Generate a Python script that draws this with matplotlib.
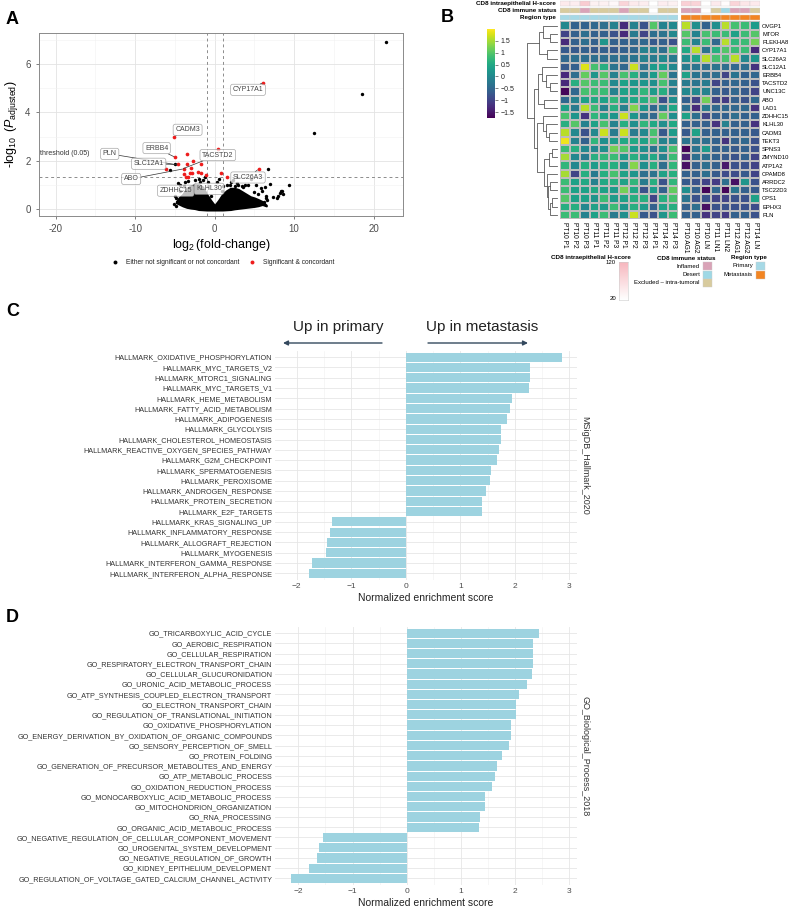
import numpy as np
import matplotlib
matplotlib.use('Agg')
import matplotlib.pyplot as plt
from matplotlib.colors import LinearSegmentedColormap
from matplotlib.patches import Rectangle
from matplotlib.ticker import MultipleLocator

plt.rcParams['font.family'] = ['Liberation Sans', 'DejaVu Sans']
plt.rcParams['mathtext.fontset'] = 'custom'
plt.rcParams['mathtext.rm'] = 'Liberation Sans'
plt.rcParams['mathtext.it'] = 'Liberation Sans:italic'

W, H = 789, 914

# ---------------- Panel A data (volcano) ----------------
sig_x = [6.1, -5.06, 0.42, -3.46, -4.98, -2.7, -4.56, -3.5, -1.69, -6.1, -3.88, -2.95,
         -2.07, -1.69, -1.14, -3.84, -3.59, -3.33, -3.16, -2.83, 0.84, 1.52, 5.53]
sig_y = [5.24, 3.0, 2.48, 2.28, 2.14, 1.98, 1.84, 1.84, 1.84, 1.66, 1.66, 1.69,
         1.54, 1.48, 1.42, 1.45, 1.34, 1.34, 1.48, 1.48, 1.47, 1.33, 1.65]

ns_x = [21.5, 18.6, 12.5, 6.75, -5.6, -4.98, -4.6, -4.4, -3.9, -1.2, -1.5, -0.8, 0.5, 0.3,
        2.3, 2.8, 3.0, 3.4, 3.8, 4.2, 4.6, 5.2, 5.8, 6.0, 6.3, 7.0, 6.5, 6.6, 6.2, 7.3,
        8.0, 8.2, 8.4, 8.6, 8.5, 9.3, 7.9, -4.8, -4.7, -5.0, -4.4, 1.5, 1.0, 2.0, -2.5,
        -2.0, -3.3, -3.7, -5.1, -4.9, 5.5, 6.4, 4.9, 3.6, -0.4, 0.9, -1.8, 1.9, 2.6]
ns_y = [6.93, 4.76, 3.15, 1.66, 1.6, 1.84, 1.05, 1.0, 0.95, 1.3, 1.2, 1.1, 1.25, 1.1,
        1.2, 1.05, 1.0, 0.95, 1.0, 1.0, 1.25, 1.0, 0.85, 0.75, 0.9, 1.02, 0.45, 0.35, 0.3, 0.5,
        0.55, 0.65, 0.75, 0.6, 0.75, 1.0, 0.45, 0.45, 0.3, 0.55, 0.75, 1.0, 0.95, 1.1, 1.2,
        1.25, 1.15, 1.1, 0.2, 0.1, 0.6, 0.55, 0.7, 0.9, 0.55, 0.75, 1.1, 1.0, 0.95]

cloud_x = [-4.8, -4.5, -4, -3.5, -3, -2.5, -2, -1.5, -1, -0.5, -0.15, 0, 0.15, 0.5, 1,
           1.5, 2, 2.5, 3, 3.5, 4, 4.5, 5, 5.5, 6, 6.5]
cloud_top = [0.3, 0.45, 0.6, 0.85, 0.95, 1.0, 1.0, 0.9, 0.6, 0.35, 0.2, 0.12, 0.2, 0.35, 0.6,
             0.75, 0.85, 0.85, 0.8, 0.7, 0.6, 0.5, 0.45, 0.38, 0.3, 0.15]
cloud_bottom = [0.25, 0.2, 0.12, 0.06, 0.03, 0.01, -0.03, -0.04, -0.05, -0.05, -0.05, -0.05,
                -0.05, -0.05, -0.05, -0.04, -0.03, 0.0, 0.02, 0.04, 0.06, 0.08, 0.1, 0.13, 0.18, 0.12]

gene_labels = ['CYP17A1', 'CADM3', 'ERBB4', 'PLN', 'SLC12A1', 'ABO', 'TACSTD2',
               'ZDHHC15', 'KLHL30', 'SLC26A3']
label_pt_x = [6.1, -5.06, -4.98, -4.98, -4.56, -3.88, -4.1, -4.5, -1.1, 5.53]
label_pt_y = [5.24, 3.0, 2.14, 1.84, 1.84, 1.66, 1.65, 1.05, 1.0, 1.65]
label_tx_x = [4.2, -3.4, -7.3, -13.2, -8.3, -10.5, 0.4, -4.9, -0.7, 4.2]
label_tx_y = [4.94, 3.28, 2.52, 2.28, 1.87, 1.24, 2.23, 0.75, 0.83, 1.3]

# ---------------- Panel B data (heatmap) ----------------
genes = ['OVGP1', 'MTOR', 'PLEKHA8', 'CYP17A1', 'SLC26A3', 'SLC12A1', 'ERBB4', 'TACSTD2',
         'UNC13C', 'ABO', 'LAD1', 'ZDHHC15', 'KLHL30', 'CADM3', 'TEKT3', 'SPNS3', 'ZMYND10',
         'ATP1A2', 'CPAMD8', 'ARRDC2', 'TSC22D3', 'CPS1', 'EPHX3', 'PLN']
samples_primary = ['PT10 P1', 'PT10 P2', 'PT10 P3', 'PT11 P1', 'PT11 P2', 'PT11 P3',
                   'PT12 P1', 'PT12 P2', 'PT12 P3', 'PT14 P1', 'PT14 P2', 'PT14 P3']
samples_met = ['PT10 AG1', 'PT10 AG2', 'PT10 LN', 'PT11 LN1', 'PT11 LN2', 'PT12 AG1',
               'PT12 AG2', 'PT14 LN']

expr_primary = np.array([
    [0.0, -0.6, -0.6, -0.5, -0.4, -0.1, -1.3, -0.1, -0.8, 1.0, -0.1, 0.0],
    [-1.0, -0.6, -0.4, -0.6, -0.6, -0.8, -1.3, -0.2, -1.0, -0.4, -0.3, 0.0],
    [-1.3, -0.6, -0.4, -0.6, 0.2, -0.6, -0.6, -0.5, -0.5, -0.7, -0.6, -0.8],
    [-0.7, -0.7, -0.6, -0.7, -0.6, -0.7, -0.6, -0.5, -0.1, -0.1, -0.4, 0.9],
    [-0.5, -0.4, -0.4, -0.4, -0.4, -0.4, -0.4, -0.3, -0.1, -0.2, 0.0, -0.2],
    [-0.7, -0.6, 1.8, 0.9, 0.6, -0.3, -0.5, 1.7, -0.3, 0.3, 0.4, 0.0],
    [-1.3, -0.4, 1.1, 0.2, 1.0, -0.1, 0.9, 0.6, -0.2, 0.3, 1.1, -0.3],
    [-1.3, 0.6, 1.0, 0.8, 0.8, 0.0, 0.4, 0.2, 0.2, 0.1, 0.9, -0.1],
    [-1.7, -0.5, 0.9, 0.8, 0.8, -0.1, 0.4, 0.4, 0.7, 0.3, 0.6, -0.2],
    [-0.5, -0.1, 0.4, 0.5, 0.4, 0.7, 0.3, 0.5, 0.6, 1.0, -0.8, 0.1],
    [0.4, -0.2, 1.6, 0.8, -0.1, 0.6, -0.1, 1.3, 0.2, -0.5, -0.1, 0.5],
    [0.9, 0.2, -1.2, 0.7, 0.4, 0.2, 1.7, 0.2, -0.3, -0.5, 1.1, 0.1],
    [0.6, 1.0, -0.1, 0.4, 0.9, -0.1, 0.6, 0.1, 0.7, 0.5, 0.1, 0.5],
    [1.6, 0.0, -0.8, 0.0, 1.7, -0.2, 1.7, -0.2, 0.0, 0.9, -0.7, 0.3],
    [1.9, -0.1, -0.6, 0.7, 0.1, 0.3, 0.5, 0.5, 0.4, 0.9, -0.1, 0.0],
    [0.8, 0.6, 0.0, 0.0, 0.1, 1.2, 1.0, 0.3, 0.1, -0.3, 0.1, 0.9],
    [1.5, 0.0, -0.2, 0.6, 0.7, 0.8, 0.3, 0.6, 0.2, 0.5, -0.1, 0.8],
    [0.7, 0.0, 0.6, 0.3, 0.6, 0.6, 0.1, 1.3, 0.1, 0.6, -0.4, 0.7],
    [1.5, -1.0, 0.6, -0.2, 0.6, 0.9, 0.4, 0.2, -0.4, -0.3, 0.4, 0.6],
    [0.8, 0.4, 0.5, -0.1, 0.5, 0.6, 0.4, 0.7, -0.2, 0.6, -0.8, 0.7],
    [0.8, 0.4, 0.4, 0.5, 0.4, 0.3, 1.2, 0.5, -0.8, 0.3, -0.6, 1.1],
    [1.0, 0.4, 0.4, 0.2, 0.8, 0.3, 0.4, 0.6, 0.6, -1.0, 0.6, 0.9],
    [0.6, 0.6, 0.0, 0.4, 0.3, 0.8, 0.2, 0.6, 0.3, -0.6, 0.4, 0.6],
    [0.8, 0.8, -0.1, 0.4, 0.8, -0.2, 0.1, 1.7, -0.7, -0.8, 0.2, 0.8],
])
expr_met = np.array([
    [1.6, 0.1, -0.6, 0.1, 1.6, 0.9, 0.8, 0.3],
    [1.0, -0.1, 0.9, 0.8, 0.8, 0.4, 0.8, 1.0],
    [0.8, -0.1, 0.8, -0.5, 1.6, 0.7, 0.8, 1.2],
    [0.5, 1.6, -0.3, 0.6, 1.0, 0.8, 0.8, -1.3],
    [0.1, 0.4, 1.6, 0.9, 0.9, 1.6, 0.0, 0.2],
    [-0.2, -0.3, -0.4, -0.3, -0.4, -0.5, -0.4, -1.2],
    [0.4, -0.3, -0.4, -0.4, -1.0, -0.3, -0.6, -0.5],
    [-0.2, -0.3, -0.2, -1.0, -0.6, -0.5, -0.6, -0.8],
    [0.0, 0.0, -0.1, -0.6, -0.7, -0.5, -0.7, -1.0],
    [-0.6, -1.0, 1.2, -1.0, -1.1, -0.6, -0.8, -0.5],
    [-0.4, -1.3, -0.2, -0.5, -0.5, -0.5, -0.5, -1.2],
    [0.4, -0.4, -1.0, -0.6, -0.6, -0.4, -0.6, -0.6],
    [-0.6, -0.6, -0.6, -1.2, -0.1, -0.6, -0.6, -1.2],
    [-0.7, 0.4, -0.6, -0.6, -0.6, -0.6, -0.6, -0.7],
    [-0.3, -0.3, -0.4, -0.6, -1.2, -0.6, -0.5, -0.8],
    [-1.7, -0.3, 0.3, -0.6, -0.6, -0.7, -0.6, -0.8],
    [-1.4, -0.4, -0.4, -0.6, -0.7, -0.8, -0.6, -1.0],
    [-1.6, -0.6, -0.4, -0.6, -1.5, -0.8, -0.8, -1.0],
    [-0.6, -0.6, -0.4, -0.7, -0.9, -0.9, -0.7, -1.0],
    [-0.7, -0.8, -1.0, -1.1, -0.4, -1.6, 0.2, -0.8],
    [0.1, -0.6, -1.7, -0.5, -1.7, -0.3, -0.6, -0.7],
    [-0.3, -0.8, -0.8, -1.0, -1.0, -0.8, -0.8, 0.4],
    [-0.6, -0.4, -1.6, -0.8, -0.8, -0.8, -0.8, -0.9],
    [-0.6, -0.6, -1.2, -1.0, -1.1, -0.6, -0.6, -0.8],
])

hscore_primary = [50, 45, 90, 40, 40, 30, 80, 50, 45, 20, 45, 40]
hscore_met = [85, 80, 20, 50, 25, 80, 55, 50]
immune_primary = ['Excluded', 'Excluded', 'Inflamed', 'Excluded', 'Excluded', 'Excluded',
                  'Inflamed', 'Excluded', 'Excluded', 'NA', 'Excluded', 'Excluded']
immune_met = ['Inflamed', 'Inflamed', 'NA', 'Excluded', 'Desert', 'Inflamed', 'Inflamed', 'Excluded']

# dendrogram: (left, right, height)
top_cluster = (('OVGP1', ('MTOR', 'PLEKHA8', 2.2), 4.6), ('CYP17A1', 'SLC26A3', 3.2), 5.9)
b1 = (('SLC12A1', ('ERBB4', ('TACSTD2', 'UNC13C', 2.5), 3.8), 5.0), ('ABO', 'LAD1', 4.2), 6.2)
b3 = ((('SPNS3', 'ZMYND10', 1.8), 'ATP1A2', 2.6),
      ('CPAMD8', (('ARRDC2', 'TSC22D3', 2.2), (('CPS1', 'EPHX3', 1.6), 'PLN', 2.4), 3.0), 3.5), 4.3)
b2 = (('ZDHHC15', ('KLHL30', ('CADM3', 'TEKT3', 2.8), 3.6), 4.6), b3, 6.8)
tree = (top_cluster, (b1, b2, 7.8), 10.0)

# ---------------- Panel C / D data ----------------
hallmark_terms = ['HALLMARK_OXIDATIVE_PHOSPHORYLATION', 'HALLMARK_MYC_TARGETS_V2',
                  'HALLMARK_MTORC1_SIGNALING', 'HALLMARK_MYC_TARGETS_V1',
                  'HALLMARK_HEME_METABOLISM', 'HALLMARK_FATTY_ACID_METABOLISM',
                  'HALLMARK_ADIPOGENESIS', 'HALLMARK_GLYCOLYSIS',
                  'HALLMARK_CHOLESTEROL_HOMEOSTASIS', 'HALLMARK_REACTIVE_OXYGEN_SPECIES_PATHWAY',
                  'HALLMARK_G2M_CHECKPOINT', 'HALLMARK_SPERMATOGENESIS', 'HALLMARK_PEROXISOME',
                  'HALLMARK_ANDROGEN_RESPONSE', 'HALLMARK_PROTEIN_SECRETION',
                  'HALLMARK_E2F_TARGETS', 'HALLMARK_KRAS_SIGNALING_UP',
                  'HALLMARK_INFLAMMATORY_RESPONSE', 'HALLMARK_ALLOGRAFT_REJECTION',
                  'HALLMARK_MYOGENESIS', 'HALLMARK_INTERFERON_GAMMA_RESPONSE',
                  'HALLMARK_INTERFERON_ALPHA_RESPONSE']
hallmark_nes = [2.87, 2.28, 2.28, 2.26, 1.94, 1.91, 1.86, 1.74, 1.74, 1.70, 1.68, 1.56, 1.54,
                1.47, 1.39, 1.39, -1.35, -1.40, -1.44, -1.47, -1.72, -1.77]

go_terms = ['GO_TRICARBOXYLIC_ACID_CYCLE', 'GO_AEROBIC_RESPIRATION', 'GO_CELLULAR_RESPIRATION',
            'GO_RESPIRATORY_ELECTRON_TRANSPORT_CHAIN', 'GO_CELLULAR_GLUCURONIDATION',
            'GO_URONIC_ACID_METABOLIC_PROCESS', 'GO_ATP_SYNTHESIS_COUPLED_ELECTRON_TRANSPORT',
            'GO_ELECTRON_TRANSPORT_CHAIN', 'GO_REGULATION_OF_TRANSLATIONAL_INITIATION',
            'GO_OXIDATIVE_PHOSPHORYLATION', 'GO_ENERGY_DERIVATION_BY_OXIDATION_OF_ORGANIC_COMPOUNDS',
            'GO_SENSORY_PERCEPTION_OF_SMELL', 'GO_PROTEIN_FOLDING',
            'GO_GENERATION_OF_PRECURSOR_METABOLITES_AND_ENERGY', 'GO_ATP_METABOLIC_PROCESS',
            'GO_OXIDATION_REDUCTION_PROCESS', 'GO_MONOCARBOXYLIC_ACID_METABOLIC_PROCESS',
            'GO_MITOCHONDRION_ORGANIZATION', 'GO_RNA_PROCESSING', 'GO_ORGANIC_ACID_METABOLIC_PROCESS',
            'GO_NEGATIVE_REGULATION_OF_CELLULAR_COMPONENT_MOVEMENT',
            'GO_UROGENITAL_SYSTEM_DEVELOPMENT', 'GO_NEGATIVE_REGULATION_OF_GROWTH',
            'GO_KIDNEY_EPITHELIUM_DEVELOPMENT', 'GO_REGULATION_OF_VOLTAGE_GATED_CALCIUM_CHANNEL_ACTIVITY']
go_nes = [2.44, 2.32, 2.32, 2.32, 2.31, 2.21, 2.07, 2.01, 2.01, 1.92, 1.92, 1.88, 1.76, 1.67,
          1.62, 1.57, 1.45, 1.44, 1.36, 1.33, -1.55, -1.61, -1.65, -1.81, -2.14]

# ---------------- helpers ----------------
def box(x0, y0, x1, y1):
    return [x0 / W, 1 - y1 / H, (x1 - x0) / W, (y1 - y0) / H]

fig = plt.figure(figsize=(W / 100, H / 100), dpi=100)

# ================= Panel A =================
ax = fig.add_axes(box(39, 33, 403, 216))
ax.set_xlim(-22.1, 23.7)
ax.set_ylim(-0.3, 7.3)
ax.set_xticks([-20, -10, 0, 10, 20])
ax.set_xticklabels(['-20', '-10', '0', '10', '20'])
ax.set_yticks([0, 2, 4, 6])
ax.set_yticklabels(['0', '2', '4', '6'])
ax.xaxis.set_minor_locator(MultipleLocator(5))
ax.yaxis.set_minor_locator(MultipleLocator(1))
ax.grid(which='major', color='#E3E3E3', lw=0.6)
ax.grid(which='minor', color='#F1F1F1', lw=0.4)
ax.set_axisbelow(True)
for s in ax.spines.values():
    s.set_color('#8A8A8A')
    s.set_linewidth(0.7)
ax.tick_params(which='major', labelsize=7, colors='#4D4D4D', length=2.5, width=0.5)
ax.tick_params(which='minor', length=0)

ax.fill_between(cloud_x, cloud_bottom, cloud_top, color='black', lw=1.5, edgecolor='black', zorder=2)
ax.scatter(ns_x, ns_y, s=6, color='black', lw=0, zorder=3)
ax.scatter(sig_x, sig_y, s=7, color='#EE1C1C', lw=0, zorder=4)

dash = (0, (3, 3))
ax.axhline(1.3, color='#8C8C8C', lw=0.7, ls=dash, zorder=1)
ax.axvline(-1, color='#8C8C8C', lw=0.7, ls=dash, zorder=1)
ax.axvline(1, color='#8C8C8C', lw=0.7, ls=dash, zorder=1)
ax.text(-22.0, 2.28, 'threshold (0.05)', fontsize=5, ha='left', va='center', color='#333333')

for g, px_, py_, tx, ty in zip(gene_labels, label_pt_x, label_pt_y, label_tx_x, label_tx_y):
    ax.annotate(g, xy=(px_, py_), xytext=(tx, ty), fontsize=5, color='#444444',
                ha='center', va='center', zorder=6,
                bbox=dict(boxstyle='round,pad=0.3', fc='white', ec='#8A8A8A', lw=0.5, alpha=0.75),
                arrowprops=dict(arrowstyle='-', color='#333333', lw=0.5, shrinkA=0, shrinkB=1))

ax.set_xlabel(r'$\log_2$(fold-change)', fontsize=9, labelpad=2)
ax.set_ylabel(r'-$\log_{10}$ ($P_{\mathrm{adjusted}}$)', fontsize=9, labelpad=4)

# ================= Panel B =================
vmin, vmax = -1.75, 2.0
hs_cmap = LinearSegmentedColormap.from_list('hs', ['#FFFFFF', '#F7B7BE'])
immune_colors = {'Inflamed': '#D9A3B7', 'Desert': '#9ED8E5', 'Excluded': '#D8CB9E', 'NA': '#FFFFFF'}
region_colors = {'Primary': '#A6D9E6', 'Metastasis': '#F28522'}

y_top, y_bot = 21.5, 219
ax_hp = fig.add_axes(box(560, y_top, 678, y_bot))
ax_hm = fig.add_axes(box(681, y_top, 760, y_bot))
for a, mat, names in [(ax_hp, expr_primary, samples_primary), (ax_hm, expr_met, samples_met)]:
    mesh = a.pcolormesh(mat, cmap='viridis', vmin=vmin, vmax=vmax, edgecolors='#BDBDBD', linewidth=0.3)
    a.set_ylim(len(genes), 0)
    a.set_xlim(0, mat.shape[1])
    a.set_xticks(np.arange(mat.shape[1]) + 0.5)
    a.set_xticklabels(names, rotation=-90, fontsize=4.8, va='top', ha='center')
    a.tick_params(length=0, pad=2)
    for s in a.spines.values():
        s.set_visible(False)
    a.set_yticks([])
ax_hm.yaxis.tick_right()
ax_hm.set_yticks(np.arange(len(genes)) + 0.5)
ax_hm.set_yticklabels(genes, fontsize=4.2)
ax_hm.tick_params(axis='y', length=0, pad=1.5)

# annotations
ann_sets = [(box(560, 0, 678, 20.5), hscore_primary, immune_primary, 'Primary'),
            (box(681, 0, 760, 20.5), hscore_met, immune_met, 'Metastasis')]
for rect, hs, imm, reg in ann_sets:
    a = fig.add_axes(rect)
    n = len(hs)
    a.set_xlim(0, n)
    a.set_ylim(3, 0)
    a.axis('off')
    for j in range(n):
        a.add_patch(Rectangle((j, 0.08), 1, 0.8, fc=hs_cmap((hs[j] - 20) / 100), ec='#D0D0D0', lw=0.3))
        a.add_patch(Rectangle((j, 1.12), 1, 0.8, fc=immune_colors[imm[j]], ec='#D0D0D0', lw=0.3))
        a.add_patch(Rectangle((j, 2.16), 1, 0.8, fc=region_colors[reg], ec='#D0D0D0', lw=0.3))
for lbl, yy in [('CD8 intraepithelial H-score', 3.6), ('CD8 immune status', 10.6), ('Region type', 17.7)]:
    fig.text(556 / W, 1 - yy / H, lbl, fontsize=4.5, fontweight='bold', ha='right', va='center')

# dendrogram
ax_d = fig.add_axes(box(527, y_top, 557, y_bot))
leaf_pos = {g: i + 0.5 for i, g in enumerate(genes)}

def draw_tree(a, node):
    if isinstance(node, str):
        return leaf_pos[node], 0.0
    left, right, h = node
    y1, h1 = draw_tree(a, left)
    y2, h2 = draw_tree(a, right)
    a.plot([h1, h, h, h2], [y1, y1, y2, y2], color='#5A5A5A', lw=0.6, clip_on=False)
    return (y1 + y2) / 2, h

draw_tree(ax_d, tree)
ax_d.set_xlim(10, 0)
ax_d.set_ylim(len(genes), 0)
ax_d.axis('off')

# colorbar
cax = fig.add_axes(box(487, 29, 495, 118))
cb = fig.colorbar(mesh, cax=cax, ticks=[-1.5, -1, -0.5, 0, 0.5, 1, 1.5])
cb.ax.set_yticklabels(['\u22121.5', '\u22121', '\u22120.5', '0', '0.5', '1', '1.5'])
cb.ax.tick_params(labelsize=5, length=2, width=0.4, colors='#222222', pad=2)
cb.outline.set_visible(False)

# B legends
hs_ax = fig.add_axes(box(619, 262, 628, 300))
hs_ax.imshow(np.linspace(1, 0, 50).reshape(-1, 1), cmap=hs_cmap, aspect='auto', vmin=0, vmax=1)
hs_ax.set_xticks([])
hs_ax.set_yticks([])
for s in hs_ax.spines.values():
    s.set_color('#CCCCCC')
    s.set_linewidth(0.4)

# ================= Panel C & D =================
BAR = '#9DD3E0'

def enrichment_panel(rect, terms, values, xlim, strip):
    a = fig.add_axes(rect)
    n = len(terms)
    yy = np.arange(n)
    a.barh(yy, values, height=0.9, color=BAR, zorder=2)
    a.set_ylim(n - 1 + 0.65, -0.6)
    a.set_xlim(*xlim)
    a.set_yticks(yy)
    a.set_yticklabels(terms, fontsize=5.25, color='#333333')
    a.set_xticks([-2, -1, 0, 1, 2, 3])
    a.set_xticklabels(['\u22122', '\u22121', '0', '1', '2', '3'], fontsize=6, color='#4D4D4D')
    a.xaxis.set_minor_locator(MultipleLocator(0.5))
    a.grid(axis='x', which='major', color='#E6E6E6', lw=0.6, zorder=0)
    a.grid(axis='x', which='minor', color='#F0F0F0', lw=0.4, zorder=0)
    a.grid(axis='y', which='major', color='#E6E6E6', lw=0.6, zorder=0)
    a.set_axisbelow(True)
    a.tick_params(which='both', length=0, pad=2)
    for s in a.spines.values():
        s.set_visible(False)
    a.set_xlabel('Normalized enrichment score', fontsize=7.5, color='#222222', labelpad=2)
    a.text(1.012, 0.5, strip, transform=a.transAxes, rotation=-90, fontsize=6.5,
           ha='left', va='center', color='#333333')
    return a

enrichment_panel(box(275, 351, 577, 580), hallmark_terms, hallmark_nes, (-2.4, 3.14),
                 'MSigDB_Hallmark_2020')
enrichment_panel(box(275, 627, 577, 885), go_terms, go_nes, (-2.43, 3.14),
                 'GO_Biological_Process_2018')

# ================= overlay: labels, arrows, legends =================
ov = fig.add_axes([0, 0, 1, 1])
ov.set_xlim(0, W)
ov.set_ylim(H, 0)
ov.axis('off')

for letter, x, y in [('A', 6, 20), ('B', 441, 18), ('C', 6, 312), ('D', 6, 617)]:
    ov.text(x, y, letter, fontsize=13, fontweight='bold', ha='left', va='center')

# panel A legend
ov.scatter([115], [262], s=8, color='black', lw=0)
ov.text(126, 262, 'Either not significant or not concordant', fontsize=4.8, va='center', color='#222222')
ov.scatter([252], [262], s=8, color='#EE1C1C', lw=0)
ov.text(263, 262, 'Significant & concordant', fontsize=4.8, va='center', color='#222222')

# panel B legends
ov.text(591, 258, 'CD8 intraepithelial H-score', fontsize=4.5, fontweight='bold', ha='center', va='center')
ov.text(616, 263, '120', fontsize=4.3, ha='right', va='center')
ov.text(616, 298, '20', fontsize=4.3, ha='right', va='center')
ov.text(686, 258, 'CD8 immune status', fontsize=4.5, fontweight='bold', ha='center', va='center')
for i, (name, key) in enumerate([('Inflamed', 'Inflamed'), ('Desert', 'Desert'),
                                 ('Excluded \u2013 intra-tumoral', 'Excluded')]):
    yy = 266 + i * 8.5
    ov.add_patch(Rectangle((703, yy - 4), 9, 8, fc=immune_colors[key], ec='#CCCCCC', lw=0.3))
    ov.text(700, yy, name, fontsize=4.3, ha='right', va='center')
ov.text(749, 258, 'Region type', fontsize=4.5, fontweight='bold', ha='center', va='center')
for i, name in enumerate(['Primary', 'Metastasis']):
    yy = 266 + i * 8.5
    ov.add_patch(Rectangle((756, yy - 4), 9, 8, fc=region_colors[name], ec='#CCCCCC', lw=0.3))
    ov.text(753, yy, name, fontsize=4.3, ha='right', va='center')

# panel C arrows
ARW = '#34495E'
ov.text(338, 327, 'Up in primary', fontsize=11, ha='center', va='center', color='#222222')
ov.text(482, 327, 'Up in metastasis', fontsize=11, ha='center', va='center', color='#222222')
ov.annotate('', xy=(283, 343), xytext=(382, 343),
            arrowprops=dict(arrowstyle='-|>', color=ARW, lw=1.0, mutation_scale=7, shrinkA=0, shrinkB=0))
ov.annotate('', xy=(528, 343), xytext=(428, 343),
            arrowprops=dict(arrowstyle='-|>', color=ARW, lw=1.0, mutation_scale=7, shrinkA=0, shrinkB=0))

fig.savefig('out.png', dpi=100)
